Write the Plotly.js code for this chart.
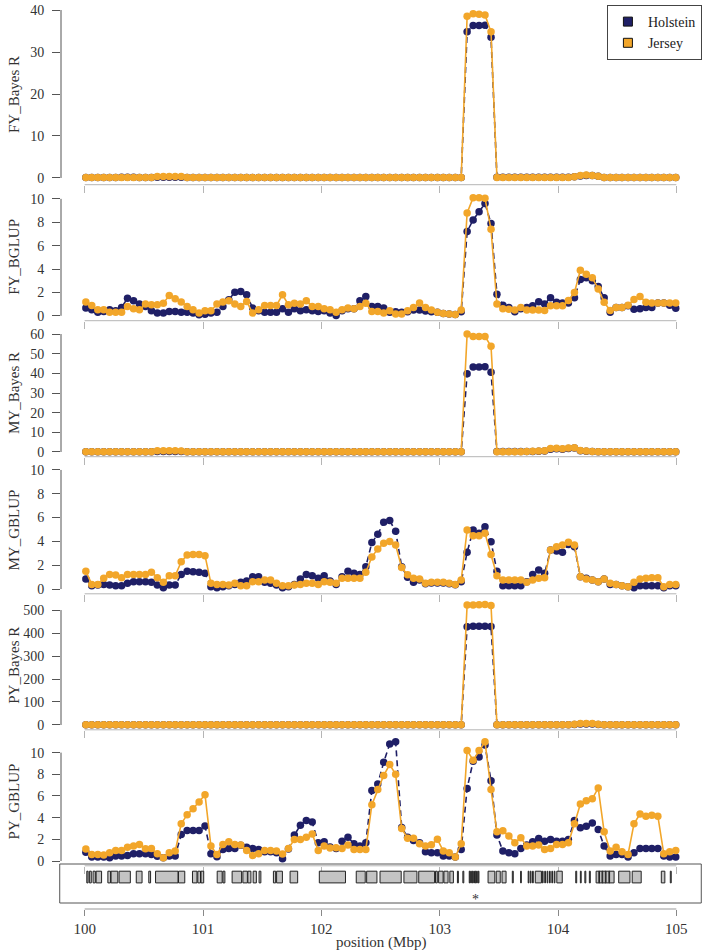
<!DOCTYPE html>
<html>
<head>
<meta charset="utf-8">
<script src="https://cdn.plot.ly/plotly-3.0.1.min.js"></script>
<style>html,body{margin:0;padding:0;background:#fff;}</style>
</head>
<body>
<div id="chart" style="width:705px;height:950px;"></div>
<script>
// ---------- DATA ----------
const positions = [100.010,100.060,100.111,100.161,100.211,100.262,100.312,100.362,100.413,100.463,
100.514,100.564,100.614,100.665,100.715,100.765,100.816,100.866,100.916,100.967,
101.017,101.067,101.118,101.168,101.218,101.269,101.319,101.369,101.420,101.470,
101.521,101.571,101.621,101.672,101.722,101.772,101.823,101.873,101.923,101.974,
102.024,102.074,102.125,102.175,102.225,102.276,102.326,102.376,102.427,102.477,
102.527,102.578,102.628,102.679,102.729,102.779,102.830,102.880,102.930,102.981,
103.031,103.081,103.132,103.182,103.232,103.283,103.333,103.383,103.434,103.484,
103.534,103.585,103.635,103.686,103.736,103.786,103.837,103.887,103.937,103.988,
104.038,104.088,104.139,104.189,104.239,104.290,104.340,104.390,104.441,104.491,
104.541,104.592,104.642,104.693,104.743,104.793,104.844,104.894,104.944,104.995];

const breeds = ["Holstein", "Jersey"];
const traitNames = ["FY_Bayes R", "FY_BGLUP", "MY_Bayes R", "MY_GBLUP", "PY_Bayes R", "PY_GBLUP"];

const fyBayesR_H = [0.1,0.1,0.1,0.1,0.1,0.1,0.15,0.15,0.15,0.1, 0.1,0.1,0.15,0.15,0.15,0.15,0.15,0.1,0.1,0.1,
0.1,0.1,0.1,0.1,0.1,0.1,0.1,0.1,0.1,0.1, 0.1,0.1,0.1,0.1,0.1,0.1,0.1,0.1,0.1,0.1,
0.1,0.1,0.1,0.1,0.1,0.1,0.1,0.1,0.1,0.1, 0.1,0.1,0.1,0.1,0.1,0.1,0.1,0.1,0.1,0.1,
0.1,0.1,0.1,0.1,34.8,36.3,36.3,36.4,33.5,0.2, 0.2,0.2,0.2,0.2,0.2,0.2,0.2,0.2,0.2,0.2,
0.2,0.2,0.3,0.5,0.6,0.6,0.4,0.1,0.1,0.1, 0.1,0.1,0.1,0.1,0.1,0.1,0.1,0.1,0.1,0.1];
const fyBayesR_J = [0.1,0.1,0.1,0.1,0.1,0.1,0.1,0.1,0.1,0.1, 0.1,0.1,0.35,0.35,0.35,0.35,0.35,0.1,0.1,0.1,
0.1,0.1,0.1,0.1,0.1,0.1,0.1,0.1,0.1,0.1, 0.1,0.1,0.1,0.1,0.1,0.1,0.1,0.1,0.1,0.1,
0.1,0.1,0.1,0.1,0.1,0.1,0.1,0.1,0.1,0.1, 0.1,0.1,0.1,0.1,0.1,0.1,0.1,0.1,0.1,0.1,
0.1,0.1,0.1,0.1,38.5,39.1,39.0,38.8,34.8,0.1, 0.1,0.1,0.1,0.1,0.1,0.1,0.1,0.1,0.1,0.1,
0.1,0.1,0.3,0.6,0.7,0.6,0.4,0.1,0.1,0.1, 0.1,0.1,0.1,0.1,0.1,0.1,0.1,0.1,0.1,0.1];

const fyGBLUP_H = [0.66,0.51,0.31,0.37,0.51,0.43,0.71,1.51,1.28,1.0, 0.8,0.43,0.23,0.23,0.37,0.37,0.31,0.31,0.23,0.09,
0.14,0.23,0.31,0.8,1.37,2.02,2.08,1.8,0.66,0.43, 0.31,0.31,0.31,0.6,0.31,0.6,0.43,0.51,0.43,0.37,
0.43,0.23,0.03,0.43,0.6,0.6,1.28,1.65,0.8,0.8, 0.66,0.3,0.35,0.3,0.35,0.5,0.5,0.4,0.35,0.3,
0.2,0.15,0.1,0.35,7.2,8.2,8.9,9.6,7.9,1.85, 0.9,0.7,0.35,0.6,0.7,0.85,1.2,1.0,1.55,1.15,
1.1,1.1,1.55,3.1,3.25,3.0,2.5,1.55,0.3,0.7, 0.7,0.85,0.55,0.6,0.7,0.7,1.1,1.1,0.9,0.65];
const fyGBLUP_J = [1.17,0.88,0.51,0.51,0.31,0.31,0.31,0.8,0.6,0.51, 1.0,0.94,0.94,1.08,1.74,1.45,1.17,0.8,0.51,0.23,
0.43,0.43,1.0,1.17,1.28,1.0,0.8,1.22,0.23,0.51, 0.88,0.88,0.88,1.8,0.94,1.08,1.0,1.28,0.8,0.8,
0.6,0.51,0.31,0.51,0.66,0.6,0.8,1.08,0.37,0.37, 0.23,0.44,0.16,0.16,0.44,0.7,1.1,0.7,0.5,0.3,
0.2,0.15,0.1,0.5,8.8,10.1,10.1,10.05,7.4,1.0, 0.6,0.55,0.5,0.7,0.5,0.5,0.5,0.45,0.85,0.85,
0.85,1.3,2.0,3.9,3.55,3.25,2.3,1.15,0.45,0.7, 0.7,0.9,1.4,1.65,1.15,1.1,1.1,1.1,1.1,1.1];

const myBayesR_H = [0.1,0.1,0.1,0.1,0.1,0.1,0.1,0.1,0.1,0.1, 0.1,0.1,0.2,0.2,0.2,0.2,0.2,0.1,0.1,0.1,
0.1,0.1,0.1,0.1,0.1,0.1,0.1,0.1,0.1,0.1, 0.1,0.1,0.1,0.1,0.1,0.1,0.1,0.1,0.1,0.1,
0.1,0.1,0.1,0.1,0.1,0.1,0.1,0.1,0.1,0.1, 0.1,0.1,0.1,0.1,0.1,0.1,0.1,0.1,0.1,0.1,
0.1,0.1,0.1,0.1,39.8,43.2,43.2,43.4,40.6,0.2, 0.2,0.2,0.2,0.2,0.3,0.3,0.4,0.5,1.4,1.6,
1.4,1.8,2.0,0.6,0.4,0.2,0.1,0.1,0.1,0.1, 0.1,0.1,0.1,0.1,0.1,0.1,0.1,0.1,0.1,0.1];
const myBayesR_J = [0.1,0.1,0.1,0.1,0.1,0.1,0.1,0.1,0.1,0.1, 0.1,0.1,0.6,0.6,0.6,0.6,0.5,0.1,0.1,0.1,
0.1,0.1,0.1,0.1,0.1,0.1,0.1,0.1,0.1,0.1, 0.1,0.1,0.1,0.1,0.1,0.1,0.1,0.1,0.1,0.1,
0.1,0.1,0.1,0.1,0.1,0.1,0.1,0.1,0.1,0.1, 0.1,0.1,0.1,0.1,0.1,0.1,0.1,0.1,0.1,0.1,
0.1,0.1,0.1,0.1,60.0,58.8,58.8,58.8,53.8,0.1, 0.1,0.1,0.1,0.1,0.2,0.4,0.5,0.6,1.8,1.9,
1.6,2.0,2.2,0.8,0.5,0.2,0.1,0.1,0.1,0.1, 0.1,0.1,0.1,0.1,0.1,0.1,0.1,0.1,0.1,0.1];

const myGBLUP_H = [0.84,0.28,0.34,0.39,0.34,0.28,0.28,0.48,0.62,0.62, 0.62,0.56,0.34,0.11,0.34,0.34,1.23,1.5,1.46,1.4,
1.32,0.2,0.11,0.2,0.28,0.39,0.56,0.67,1.04,1.04, 0.56,0.48,0.34,0.11,0.2,0.39,0.84,1.23,1.12,0.9,
1.12,0.67,0.39,1.04,1.5,1.32,1.23,1.88,3.9,4.6, 5.6,5.75,4.85,1.88,1.0,0.56,0.76,0.45,0.5,0.5,
0.5,0.45,0.35,0.62,3.08,4.96,4.68,5.24,3.98,1.5, 0.28,0.28,0.28,0.28,0.62,1.23,1.6,1.32,3.28,3.2,
3.08,3.75,3.56,1.04,0.9,0.76,0.62,0.84,0.39,0.39, 0.28,0.2,0.11,0.28,0.28,0.28,0.28,0.11,0.28,0.28];
const myGBLUP_J = [1.5,0.39,0.39,0.9,1.23,1.18,0.95,1.23,1.23,1.23, 1.23,1.4,0.95,0.56,1.12,1.12,2.3,2.86,2.9,2.9,
2.8,0.48,0.39,0.39,0.34,0.48,0.28,0.28,0.62,0.62, 0.76,0.76,0.48,0.28,0.28,0.34,0.39,0.48,0.48,0.39,
0.62,0.56,0.48,0.9,0.9,0.9,0.9,1.4,2.7,3.36, 3.84,4.0,3.7,1.8,1.2,0.9,0.84,0.48,0.56,0.56,
0.56,0.48,0.39,0.76,4.96,4.48,4.48,4.68,2.9,1.12, 0.76,0.76,0.76,0.76,0.56,0.76,0.9,0.95,3.28,3.56,
3.7,3.92,3.7,1.04,0.84,0.76,0.62,0.84,0.48,0.39, 0.28,0.2,0.56,0.84,0.9,0.95,0.95,0.2,0.39,0.39];

const pyBayesR_H = [1,1,1,1,1,1,1,1,1,1, 1,1,1,1,1,1,1,1,1,1, 1,1,1,1,1,1,1,1,1,1, 1,1,1,1,1,1,1,1,1,1,
1,1,1,1,1,1,1,1,1,1, 1,1,1,1,1,1,1,1,1,1, 1,1,1,1,427,429,430,430,428,1,
1,1,1,1,1,1,1,1,1,1, 1,1,2,4,4,4,2,1,1,1, 1,1,1,1,1,1,1,1,1,1];
const pyBayesR_J = [1,1,1,1,1,1,1,1,1,1, 1,1,1,1,1,1,1,1,1,1, 1,1,1,1,1,1,1,1,1,1, 1,1,1,1,1,1,1,1,1,1,
1,1,1,1,1,1,1,1,1,1, 1,1,1,1,1,1,1,1,1,1, 1,1,1,1,522,522,523,524,520,1,
1,1,1,1,1,1,1,1,1,1, 1,1,3,6,6,6,3,1,1,1, 1,1,1,1,1,1,1,1,1,1];

const pyGBLUP_H = [0.8,0.37,0.37,0.37,0.3,0.46,0.46,0.52,0.67,0.67, 0.67,0.61,0.43,0.3,0.46,0.46,2.45,2.81,2.81,2.81,
3.24,0.67,0.4,1.07,1.16,1.16,1.45,1.28,1.16,1.07, 0.86,0.86,0.76,0.2,1.1,2.39,3.3,3.73,3.6,1.68,
1.77,1.3,1.16,1.83,2.2,1.59,1.38,1.68,6.5,7.1, 9.1,10.8,11.0,3.1,2.2,1.9,1.68,0.86,0.76,0.76,
0.46,0.46,0.37,1.07,6.7,9.2,9.6,10.7,7.4,2.4, 0.92,0.76,0.67,1.16,1.47,1.77,2.08,1.83,1.99,1.83,
1.83,1.99,3.73,3.06,3.2,3.5,2.9,1.38,0.46,0.61, 0.61,0.37,0.76,1.16,1.16,1.16,1.16,0.46,0.37,0.37];
const pyGBLUP_J = [1.1,0.6,0.6,0.55,0.76,0.98,0.98,1.28,1.38,1.53, 1.13,1.16,0.67,0.3,0.76,0.92,3.43,4.28,4.83,5.44,
6.12,1.38,0.6,1.53,1.77,1.53,1.47,0.98,0.52,0.67, 0.98,0.98,0.92,0.65,1.16,1.99,1.99,2.2,2.5,0.98,
1.38,1.2,1.22,1.16,1.47,1.07,1.07,1.07,5.2,6.6, 7.9,8.9,8.0,3.0,2.1,2.1,1.6,1.38,1.5,2.0,
0.92,0.76,0.37,1.6,10.2,9.3,10.2,11.0,6.6,2.7, 2.8,2.3,1.68,2.14,1.38,1.38,1.47,1.07,1.16,1.53,
1.53,1.68,3.43,5.26,5.56,5.75,6.73,2.7,0.92,1.28, 0.86,0.61,3.43,4.34,4.13,4.22,4.13,0.67,0.86,0.98];

const yTicks = [[0,10,20,30,40],[0,2,4,6,8,10],[0,10,20,30,40,50,60],[0,2,4,6,8,10],[0,100,200,300,400,500],[0,2,4,6,8,10]];
const xTicks = [100,101,102,103,104,105];

const geneStart = [100.018,100.040,100.071,100.097,100.196,100.223,100.291,100.436,100.542,100.599,100.793,100.911,100.956,100.983,
101.120,101.169,101.246,101.337,101.379,101.424,101.474,101.595,101.622,101.736,101.983,102.295,102.383,102.496,102.698,102.823,
102.965,102.991,103.036,103.086,103.150,103.196,103.250,103.262,103.276,103.288,103.300,103.312,103.326,103.409,103.478,103.527,
103.614,103.684,103.748,103.766,103.785,103.808,103.868,103.888,103.908,103.928,103.948,103.968,103.990,104.150,104.189,104.227,
104.265,104.322,104.345,104.372,104.400,104.430,104.513,104.627,104.873,104.949];
const geneEnd = [100.029,100.056,100.090,100.143,100.219,100.280,100.386,100.485,100.557,100.789,100.846,100.949,100.979,101.006,
101.162,101.185,101.326,101.375,101.405,101.451,101.489,101.614,101.671,101.800,102.204,102.371,102.470,102.675,102.808,102.957,
102.980,103.029,103.071,103.116,103.158,103.204,103.256,103.268,103.282,103.294,103.306,103.318,103.332,103.466,103.512,103.561,
103.622,103.690,103.754,103.772,103.791,103.860,103.874,103.894,103.914,103.934,103.954,103.974,104.036,104.158,104.196,104.235,
104.273,104.474,104.351,104.378,104.406,104.436,104.608,104.703,104.903,104.957];
const markerLabel = "*";
const markerPos = 103.305;

// ---------- STYLE / LAYOUT ----------
const colH = "#1f1f66", colJ = "#f2a62a";
const FONT = "Liberation Serif, Times New Roman, serif";
const seriesH = [fyBayesR_H, fyGBLUP_H, myBayesR_H, myGBLUP_H, pyBayesR_H, pyGBLUP_H];
const seriesJ = [fyBayesR_J, fyGBLUP_J, myBayesR_J, myGBLUP_J, pyBayesR_J, pyGBLUP_J];
const H = 950;
const panelPx = [[3.3,184.7],[193,320.7],[329.3,456.7],[465.2,593.8],[599.7,729.8],[737,865.8]];
const yRanges = [[-1.6,41.6],[-0.42,10.5],[-2.4,62.4],[-0.4,10.4],[-21,545],[-0.44,11.44]];
const fr = px => 1 - px / H;

const traces = [];
const layout = {
  width: 705, height: 950,
  margin: {l: 61, r: 5, t: 0, b: 0},
  paper_bgcolor: "#fff", plot_bgcolor: "rgba(0,0,0,0)",
  font: {family: FONT, size: 15, color: "#333"},
  showlegend: true,
  legend: {x: 1.003, xanchor: "right", y: fr(5), yanchor: "top", bgcolor: "#fff",
           bordercolor: "#444", borderwidth: 1, font: {family: FONT, size: 14, color: "#222"},
           tracegroupgap: 0, itemwidth: 30},
  shapes: [], annotations: []
};

for (let i = 0; i < 6; i++) {
  const s = i === 0 ? "" : String(i + 1);
  const xa = "x" + s, ya = "y" + s;
  traces.push({type: "scatter", mode: "lines+markers", x: positions, y: seriesH[i], xaxis: xa, yaxis: ya,
    name: breeds[0], showlegend: false, cliponaxis: false,
    line: {color: colH, width: 1.6, dash: "6px,4px"}, marker: {color: colH, size: 7.5}});
  traces.push({type: "scatter", mode: "lines+markers", x: positions, y: seriesJ[i], xaxis: xa, yaxis: ya,
    name: breeds[1], showlegend: false, cliponaxis: false,
    line: {color: colJ, width: 1.6}, marker: {color: colJ, size: 7.5}});
  layout["xaxis" + s] = {domain: [0, 1], range: [99.8, 105.2], anchor: ya, tickvals: xTicks,
    ticks: "outside", ticklen: 7, tickcolor: "#b5b5b5", tickwidth: 1, showticklabels: false,
    showline: false, showgrid: false, zeroline: false, fixedrange: true};
  layout["yaxis" + s] = {domain: [fr(panelPx[i][1]), fr(panelPx[i][0])], range: yRanges[i], anchor: xa,
    tickvals: yTicks[i], ticks: "outside", ticklen: 8, tickcolor: "#555", tickwidth: 1,
    ticklabelstandoff: 5, tickfont: {family: FONT, size: 14, color: "#333"},
    showline: false, showgrid: false, zeroline: false, fixedrange: true};
  layout.shapes.push({type: "line", xref: xa, yref: ya + " domain", x0: 100, x1: 105, y0: 0, y1: 0,
    line: {color: "#b5b5b5", width: 1}});
  const yt = yTicks[i];
  layout.shapes.push({type: "line", xref: xa + " domain", yref: ya, x0: 0, x1: 0, y0: yt[0], y1: yt[yt.length - 1],
    line: {color: "#555", width: 1}});
  layout.annotations.push({text: traitNames[i], xref: "paper", yref: ya + " domain", x: (14 - 61) / 639, y: 0.5,
    xanchor: "center", yanchor: "middle", textangle: -90, showarrow: false,
    font: {family: FONT, size: 15, color: "#333"}});
}

// legend entries
breeds.forEach((b, j) => traces.push({type: "scatter", mode: "markers", x: [null], y: [null], xaxis: "x", yaxis: "y",
  name: b, showlegend: true, marker: {symbol: "square", size: 9, color: j === 0 ? colH : colJ, line: {color: "#111", width: 1}}}));

// gene track
traces.push({type: "bar", orientation: "h", base: geneStart, x: geneEnd.map((e, k) => e - geneStart[k]),
  y: geneStart.map(() => 0.71), width: 0.26, xaxis: "x7", yaxis: "y7", showlegend: false,
  marker: {color: "#c4c4c4", line: {color: "#222", width: 1}}, hoverinfo: "skip"});
layout.xaxis7 = {domain: [0, 1], range: [99.8, 105.2], anchor: "y7", tickvals: xTicks, ticktext: xTicks.map(String),
  ticks: "outside", ticklen: 6, tickcolor: "#888", tickwidth: 1, showticklabels: true,
  tickfont: {family: FONT, size: 15, color: "#333"}, showline: false, showgrid: false, zeroline: false, fixedrange: true};
layout.yaxis7 = {domain: [fr(909), fr(864)], range: [0, 1], anchor: "x7", showticklabels: false, ticks: "",
  showline: false, showgrid: false, zeroline: false, fixedrange: true};
layout.shapes.push({type: "rect", xref: "paper", yref: "paper", x0: -0.002, x1: 1.002, y0: fr(903), y1: fr(864),
  line: {color: "#555", width: 1}, fillcolor: "rgba(0,0,0,0)"});
layout.shapes.push({type: "line", xref: "x7", yref: "y7 domain", x0: 100, x1: 105, y0: 0, y1: 0,
  line: {color: "#999", width: 1}});
layout.annotations.push({text: markerLabel, xref: "x7", yref: "y7", x: markerPos, y: 0.22, showarrow: false,
  xanchor: "center", yanchor: "middle", font: {family: FONT, size: 14, color: "#333"}});
layout.annotations.push({text: "position (Mbp)", xref: "x7", yref: "paper", x: 102.5, y: fr(942), showarrow: false,
  xanchor: "center", yanchor: "middle", font: {family: FONT, size: 15, color: "#333"}});
layout.barmode = "overlay";

Plotly.newPlot("chart", traces, layout, {displayModeBar: false, staticPlot: true});
</script>
</body>
</html>
